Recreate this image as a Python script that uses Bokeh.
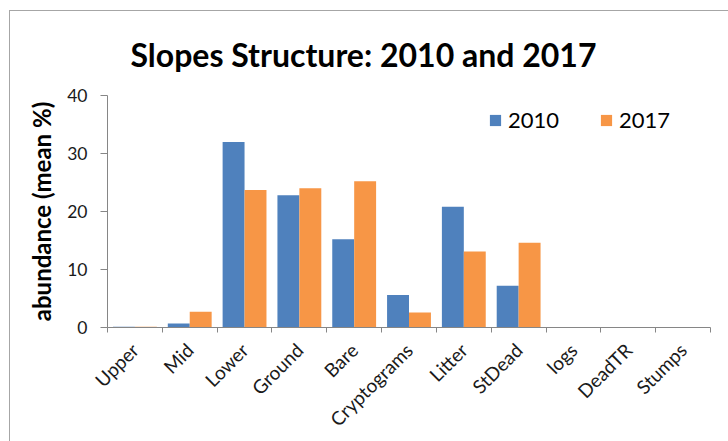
import numpy as np
from bokeh.plotting import figure
from bokeh.models import ColumnDataSource, Range1d, FixedTicker, Legend, LegendItem
from bokeh.transform import dodge
from bokeh.embed import file_html
from bokeh.resources import INLINE

categories = ["Upper", "Mid", "Lower", "Ground", "Bare", "Cryptograms",
              "Litter", "StDead", "logs", "DeadTR", "Stumps"]
values_2010 = [0.15, 0.7, 32.0, 22.8, 15.2, 5.6, 20.8, 7.2, 0.0, 0.0, 0.0]
values_2017 = [0.15, 2.7, 23.7, 24.0, 25.2, 2.6, 13.1, 14.6, 0.0, 0.0, 0.05]
y_ticks = [0, 10, 20, 30, 40]

FONT = "Lato"
BLUE = "#4F81BD"
ORANGE = "#F79646"
AXIS = "#868686"
FRAME = "#a6a6a6"

centers = [i + 0.5 for i in range(len(categories))]
bounds = list(range(len(categories) + 1))
src = ColumnDataSource(dict(x=centers, v2010=values_2010, v2017=values_2017))

# chart-area border (left/top edges visible) drawn as the page background
bg = (f"linear-gradient({FRAME},{FRAME}) 9px 10px / 1px 100% no-repeat, "
      f"linear-gradient({FRAME},{FRAME}) 9px 10px / 100% 1px no-repeat, white")

p = figure(width=728, height=441, x_range=Range1d(0, len(categories)),
           y_range=Range1d(0, 40), output_backend="svg", toolbar_location=None,
           min_border_left=107, min_border_right=18, min_border_top=95,
           min_border_bottom=112, styles={"background": bg})
p.border_fill_alpha = 0
p.background_fill_color = "white"
p.outline_line_color = None
p.grid.visible = False

r1 = p.vbar(x=dodge("x", -0.2, range=p.x_range), top="v2010", width=0.4,
            source=src, fill_color=BLUE, line_color=None)
r2 = p.vbar(x=dodge("x", 0.2, range=p.x_range), top="v2017", width=0.4,
            source=src, fill_color=ORANGE, line_color=None)

# Title
p.title.text = "Slopes Structure: 2010 and 2017"
p.title.text_font = FONT
p.title.text_font_size = "32px"
p.title.text_font_style = "bold"
p.title.align = "left"
p.title.vertical_align = "top"
p.title.offset = 23
p.title.standoff = 40
p.title.text_color = "#000000"

# X axis
xa = p.xaxis[0]
xa.ticker = FixedTicker(ticks=centers, minor_ticks=bounds)
xa.major_label_overrides = {c: name for c, name in zip(centers, categories)}
xa.major_label_orientation = np.pi / 4
xa.major_tick_out = 0
xa.major_tick_in = 0
xa.minor_tick_out = 5
xa.minor_tick_in = 0
xa.minor_tick_line_color = AXIS
xa.axis_line_color = AXIS
xa.major_label_text_font = FONT
xa.major_label_text_font_size = "19px"
xa.major_label_text_color = "#1a1a1a"
xa.major_label_standoff = 14

# Y axis
ya = p.yaxis[0]
ya.ticker = FixedTicker(ticks=y_ticks, minor_ticks=[])
ya.axis_line_color = AXIS
ya.major_tick_line_color = AXIS
ya.major_tick_out = 7
ya.major_tick_in = 0
ya.minor_tick_out = 0
ya.minor_tick_in = 0
ya.major_label_text_font = FONT
ya.major_label_text_font_size = "17.5px"
ya.major_label_text_color = "#1a1a1a"
ya.major_label_standoff = 13
ya.axis_label = "abundance (mean %)"
ya.axis_label_text_font = FONT
ya.axis_label_text_font_size = "24px"
ya.axis_label_text_font_style = "bold"
ya.axis_label_text_color = "#000000"
ya.axis_label_standoff = 8

legend = Legend(items=[LegendItem(label="2010", renderers=[r1]),
                       LegendItem(label="2017", renderers=[r2])],
                orientation="horizontal", location=(381, 194),
                glyph_width=14, glyph_height=14, label_text_font=FONT,
                label_text_font_size="22px", label_text_color="#000000",
                spacing=40, padding=0, margin=0, label_standoff=6,
                border_line_color=None, background_fill_alpha=0)
p.add_layout(legend, "center")

open("out.html", "w").write(file_html(p, INLINE))
